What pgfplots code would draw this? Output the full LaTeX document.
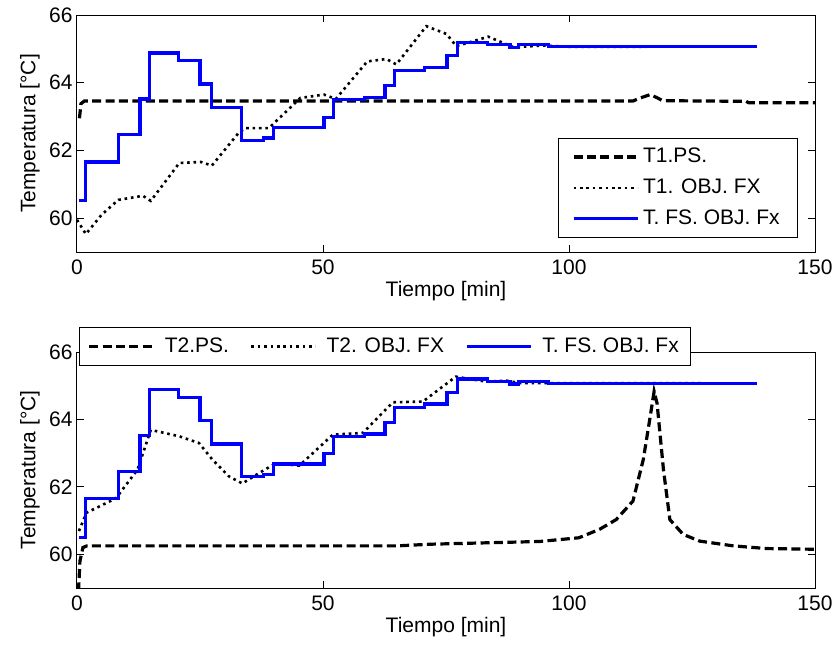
\documentclass[border=0pt]{standalone}
\usepackage{fontspec}
\setmainfont{Liberation Sans}
\usepackage{pgfplots}
\pgfplotsset{compat=1.18}
\definecolor{mblue}{RGB}{0,0,255}
\begin{document}
\fontsize{10.5pt}{12.6pt}\selectfont
\begin{tikzpicture}
\useasboundingbox (0,0) rectangle (417.5pt,-325pt);
\pgfplotsset{
 myax/.style={
   scale only axis, width=369pt, height=118.5pt,
   xmin=0, xmax=150, ymin=59, ymax=66,
   xtick={0,50,100,150}, ytick={60,62,64,66},
   tick align=inside, major tick length=3.7pt,
   axis line style={line width=0.5pt},
   every tick/.style={black, line width=0.5pt},
   /pgf/number format/assume math mode=true,
   ticklabel style={font=\fontsize{10.5pt}{12pt}\selectfont},
   yticklabel style={xshift=1.5pt},
   label style={font=\fontsize{10.5pt}{12pt}\selectfont},
   xlabel={Tiempo [min]}, ylabel={Temperatura [°C]},
   xlabel style={at={(axis description cs:0.5,0)}, anchor=center, yshift=-19.5pt},
   ylabel style={at={(axis description cs:-0.0637,0.5)}, anchor=center},
   legend cell align=left,
   legend image code/.code={\draw[##1] (0pt,0pt) -- (32pt,0pt);},
   legend style={draw=black, fill=white, font=\fontsize{10.5pt}{12pt}\selectfont},
 },
 psline/.style={black, line width=1.6pt, dash pattern=on 4.5pt off 2.2pt},
 objline/.style={black, line width=1.3pt, dash pattern=on 1.3pt off 1.9pt},
 fsline/.style={mblue, line width=1.6pt, const plot},
}
% ---------------- top ----------------
\begin{axis}[myax, at={(38.5pt,-126pt)}, anchor=south west,
  legend style={at={(axis description cs:0.977,0.059)}, anchor=south east,
    row sep=2.5pt, inner xsep=7pt, inner ysep=3pt}]
\addplot[psline] coordinates {
(0.5,62.95) (0.8,63.38) (1.5,63.46) (20,63.46) (60,63.46) (100,63.46) (113,63.46)
(114.5,63.55) (116.5,63.65) (118,63.55) (119,63.47) (136,63.45) (136.5,63.41) (150,63.41)};
\addlegendentry{T1.PS.}
\addplot[objline] coordinates {
(0,59.95) (1.8,59.53) (5,60.1) (8.4,60.54) (13.4,60.66) (15,60.51) (20.8,61.63)
(25.2,61.66) (27.4,61.55) (32.8,62.51) (34.2,62.66) (39,62.66) (45.4,63.55)
(50.2,63.65) (52.6,63.52) (59,64.63) (62.9,64.7) (64.9,64.54) (71,65.67)
(75.1,65.44) (77.1,65.08) (83.6,65.36) (88.7,65.05) (95,65.1) (100,65.06) (138,65.07)};
\addlegendentry{T1. OBJ. FX}
\addplot[fsline] coordinates {
(0.4,60.51) (1.8,61.66) (8.4,62.46) (12.8,63.52) (14.7,64.88) (20.7,64.66)
(25.0,63.96) (27.4,63.27) (33.5,62.30) (37.9,62.37) (39.9,62.68) (50.2,62.98)
(52.2,63.50) (58.5,63.57) (62.6,63.91) (64.6,64.36) (70.7,64.46) (75.2,64.80)
(77.3,65.20) (83.4,65.12) (88,65.05) (89.7,65.12) (95.8,65.06) (138.2,65.06)};
\addlegendentry{T. FS. OBJ. Fx}
\end{axis}
% ---------------- bottom ----------------
\begin{axis}[myax, at={(38.5pt,-294pt)}, anchor=south west, height=118pt,
  legend columns=3,
  legend style={at={(axis description cs:0.003,1)}, anchor=north west, yshift=12.5pt,
    inner xsep=4pt, inner ysep=3pt,
    /tikz/every odd column/.append style={column sep=3pt},
    /tikz/every even column/.append style={column sep=8.5pt}}]
\addplot[psline] coordinates {
(0.3,58.9) (0.6,59.8) (1.2,60.2) (2,60.25) (30,60.25) (65,60.25) (72,60.3) (94,60.38)
(102,60.49) (106.2,60.74) (109.6,61.03) (113,61.58) (115.1,62.81) (116.4,63.99)
(117.3,64.83) (117.9,64.48) (119.2,62.51) (120.5,61.03) (123.2,60.59) (126.6,60.39)
(133.4,60.25) (140.2,60.17) (150,60.15)};
\addlegendentry{T2.PS.}
\addplot[objline] coordinates {
(0.4,60.69) (1.9,61.23) (7.9,61.66) (12.3,62.51) (15,63.69) (20.8,63.5) (24.8,63.3)
(27.5,62.81) (30.9,62.31) (33.6,62.1) (37,62.41) (40.4,62.7) (45.2,62.63) (52,63.55)
(58.1,63.6) (64.2,64.51) (70.3,64.53) (77,65.27) (83.2,65.12) (87.3,65.15) (90,65.08)
(138,65.07)};
\addlegendentry{T2. OBJ. FX}
\addplot[fsline] coordinates {
(0.4,60.51) (1.8,61.66) (8.4,62.46) (12.8,63.52) (14.7,64.88) (20.7,64.66)
(25.0,63.96) (27.4,63.27) (33.5,62.30) (37.9,62.37) (39.9,62.68) (50.2,62.98)
(52.2,63.50) (58.5,63.57) (62.6,63.91) (64.6,64.36) (70.7,64.46) (75.2,64.80)
(77.3,65.20) (83.4,65.12) (88,65.05) (89.7,65.12) (95.8,65.06) (138.2,65.06)};
\addlegendentry{T. FS. OBJ. Fx}
\end{axis}
\end{tikzpicture}
\end{document}
